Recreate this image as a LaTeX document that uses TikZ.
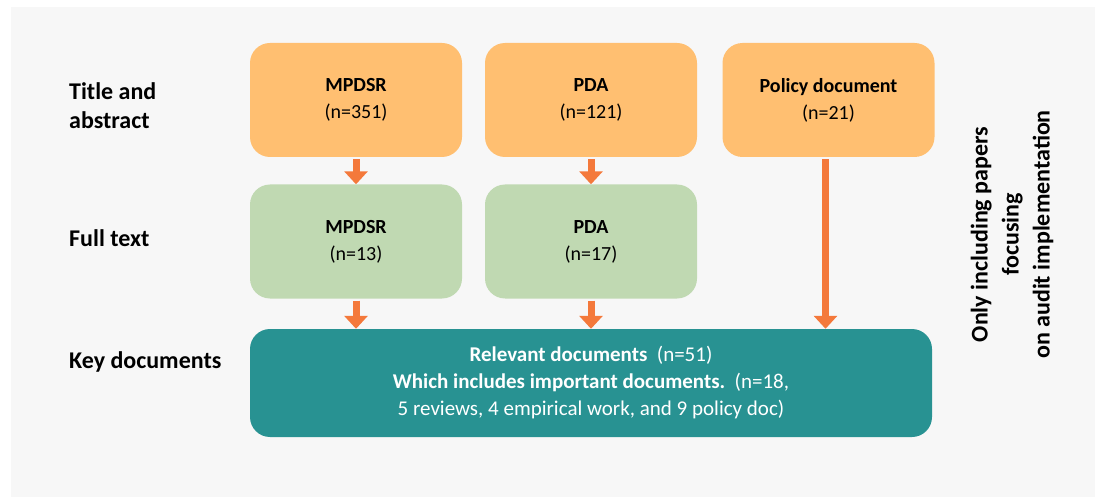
\documentclass[tikz,border=0pt]{standalone}
\usepackage{fontspec}
\setmainfont{Carlito}
\usetikzlibrary{arrows.meta}

\definecolor{canvas}{HTML}{F7F7F7}
\definecolor{boxorange}{HTML}{FFBF71}
\definecolor{boxgreen}{HTML}{C0D9B2}
\definecolor{boxteal}{HTML}{289292}
\definecolor{arroworange}{HTML}{F4793B}

\begin{document}
\begin{tikzpicture}[x=1pt,y=1pt,
  stagebox/.style={rectangle, rounded corners=20pt, minimum width=212pt,
    minimum height=114pt, inner sep=0pt, align=center,
    font=\fontsize{20}{27}\selectfont},
  orangebox/.style={stagebox, fill=boxorange},
  greenbox/.style={stagebox, fill=boxgreen},
  tealbox/.style={rectangle, rounded corners=20pt, minimum width=682pt,
    minimum height=108pt, inner sep=0pt, align=center, fill=boxteal,
    text=white, font=\fontsize{21}{27}\selectfont},
  steplabel/.style={inner sep=0pt, align=left,
    font=\bfseries\fontsize{24}{29}\selectfont},
  sidenote/.style={inner sep=0pt, align=center, rotate=90,
    font=\bfseries\fontsize{24}{31}\selectfont},
  flowarrow/.style={draw=arroworange, line width=7pt,
    -{Triangle[width=23pt,length=13pt]}}]

  % canvas
  \useasboundingbox (0,0) rectangle (1095,-497);
  \fill[canvas] (11,-7) rectangle (1095,-497);

  % stage labels
  \node[steplabel, anchor=south west] (lblta) at (69,-129) {Title and\\abstract};
  \node[steplabel, anchor=base west] (lblft) at (69,-247) {Full text};
  \node[steplabel, anchor=base west] (lblkd) at (69,-368) {Key documents};

  % title and abstract screening
  \node[orangebox] (tmp) at (356,-100) {\textbf{MPDSR}\\(n=351)};
  \node[orangebox] (tpda) at (591,-100) {\textbf{PDA}\\(n=121)};
  \node[orangebox] (tpol) at (828.5,-100) {\textbf{Policy document}\\(n=21)};

  % full text screening
  \node[greenbox] (fmp) at (356,-241.5) {\textbf{MPDSR}\\(n=13)};
  \node[greenbox] (fpda) at (591,-241.5) {\textbf{PDA}\\(n=17)};

  % key documents
  \node[tealbox] (key) at (591,-383)
    {\textbf{Relevant documents}\ \ (n=51)\\
     \textbf{Which includes important documents.}\ \ (n=18,\\
     5 reviews, 4 empirical work, and 9 policy doc)};

  % inclusion criterion
  \node[sidenote] (crit) at (1012,-234.5)
    {Only including papers\\focusing\\on audit implementation};

  % flow arrows
  \draw[flowarrow] ([yshift=-2pt]tmp.south) -- (fmp.north);
  \draw[flowarrow] ([yshift=-2pt]tpda.south) -- (fpda.north);
  \draw[flowarrow] ([yshift=-2pt]fmp.south) -- (fmp.south |- key.north);
  \draw[flowarrow] ([yshift=-2pt]fpda.south) -- (fpda.south |- key.north);
  \draw[flowarrow] ([xshift=-3pt,yshift=-2pt]tpol.south) -- ([xshift=-3pt]tpol.south |- key.north);
\end{tikzpicture}
\end{document}
